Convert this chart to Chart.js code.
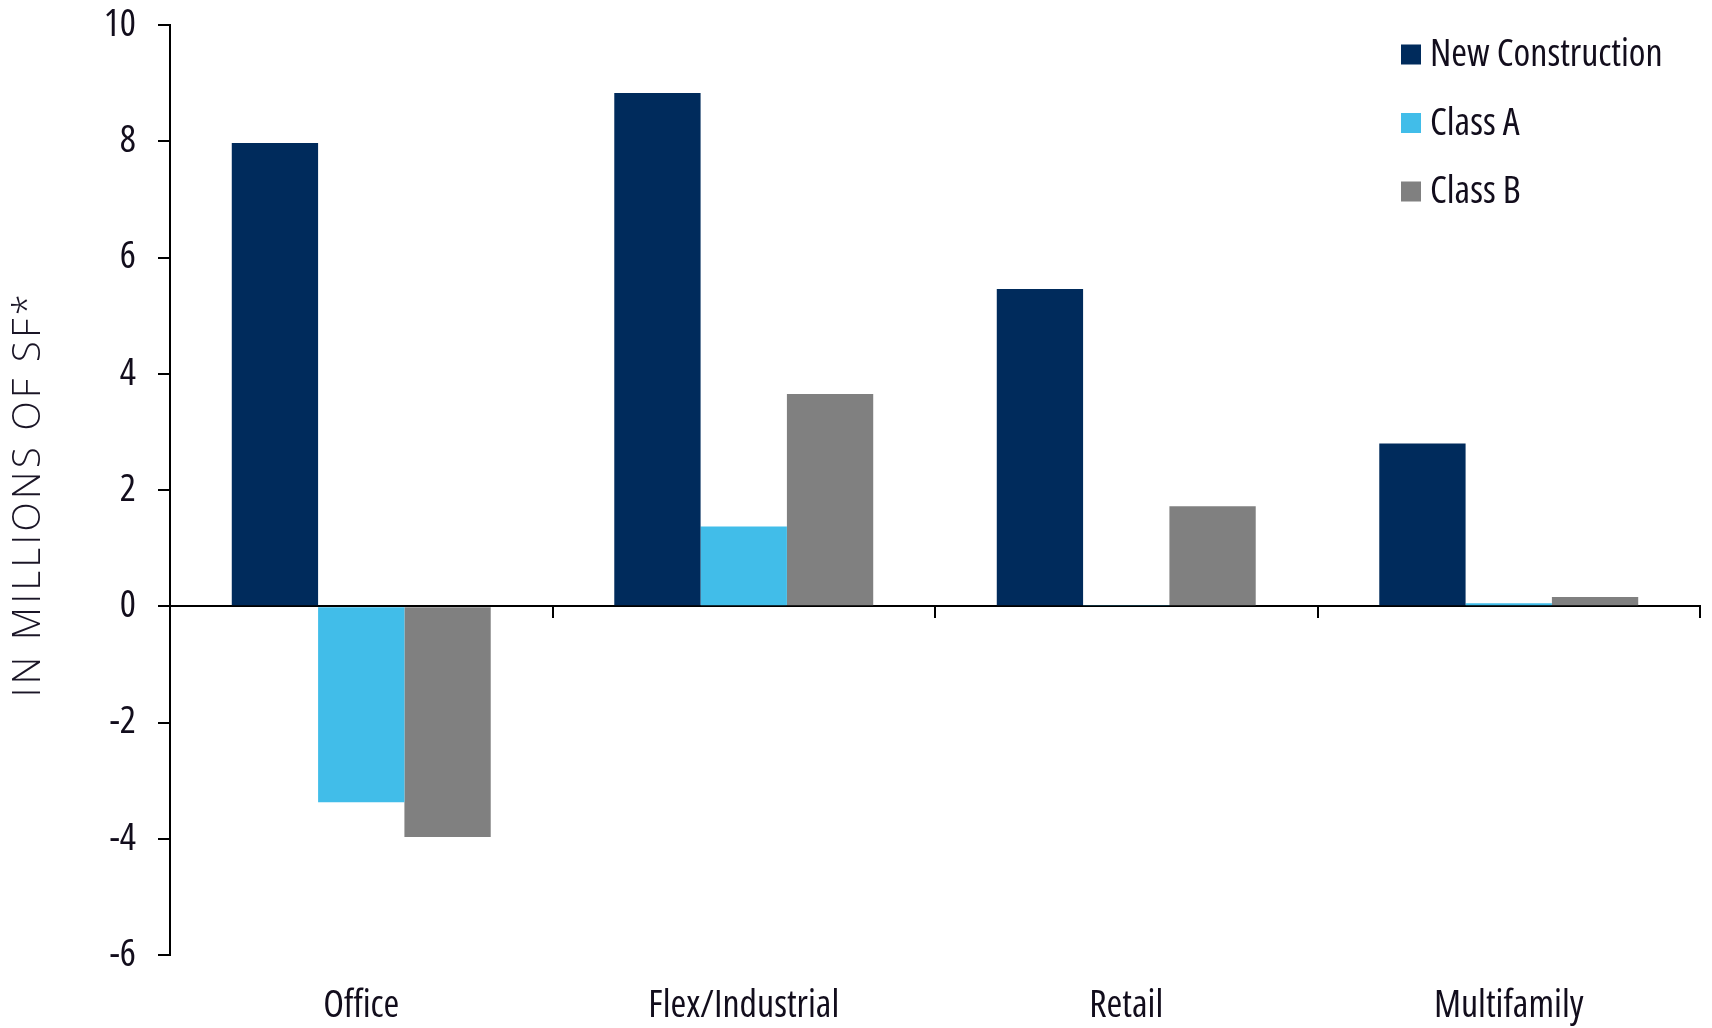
<!DOCTYPE html>
<html>
<head>
<meta charset="utf-8">
<script src="https://cdn.jsdelivr.net/npm/chart.js@4/dist/chart.umd.min.js"></script>
<style>
    body { margin: 0; background: #fff; }
    #wrap { width: 1712px; height: 1028px; }
</style>
</head>
<body>
<div id="wrap"><canvas id="chart"></canvas></div>
<script>
// Dados (milhões de SF)
const categories = ['Office', 'Flex/Industrial', 'Retail', 'Multifamily'];
const newConstruction = [7.97, 8.83, 5.46, 2.80];
const classA = [-3.37, 1.37, 0.02, 0.05];
const classB = [-3.97, 3.65, 1.72, 0.16];
const seriesNames = ['New Construction', 'Class A', 'Class B'];
const axisTitle = 'IN MILLIONS OF SF*';

const colors = ['#002B5C', '#41BDE9', '#808080'];
const textColor = '#120d1c';

// Procura uma fonte condensada instalada (largura alvo de "Flex/Industrial" ~192px)
function pickFont() {
    const c = document.createElement('canvas').getContext('2d');
    const fams = ['"Open Sans"', 'Roboto', '"Noto Sans"', 'Inter'];
    for (const fam of fams) {
        c.font = `500 36px ${fam}`;
        const normal = c.measureText('Flex/Industrial').width;
        c.font = `condensed 500 36px ${fam}`;
        const cond = c.measureText('Flex/Industrial').width;
        if (cond < normal * 0.9) {
            return { family: fam, weight: 'condensed 500', size: Math.min(38, Math.round(36 * 192 / cond)) };
        }
    }
    c.font = '36px "DejaVu Sans Condensed"';
    const dv = c.measureText('Flex/Industrial').width;
    return { family: '"DejaVu Sans Condensed", sans-serif', weight: 'normal', size: Math.round(36 * 200 / dv) };
}
const lf = pickFont();
const labelFont = { family: lf.family, weight: lf.weight, size: lf.size };

// Legenda dentro da área do gráfico e título do eixo com espaçamento entre letras
const extras = {
    id: 'extras',
    afterDraw(chart) {
        const ctx = chart.ctx;
        const area = chart.chartArea;
        const x = area.right - 299;
        ctx.save();
        ctx.font = `${lf.weight} ${lf.size}px ${lf.family}`;
        ctx.textBaseline = 'middle';
        chart.data.datasets.forEach((ds, i) => {
            const y = 54.5 + i * 68.5;
            ctx.fillStyle = ds.backgroundColor;
            ctx.fillRect(x, y - 10, 20, 20);
            ctx.fillStyle = textColor;
            ctx.fillText(ds.label, x + 29, y + 1);
        });
        ctx.restore();

        ctx.save();
        ctx.translate(29, (area.top + area.bottom) / 2 + 4);
        ctx.rotate(-Math.PI / 2);
        ctx.font = '300 38px "Open Sans", sans-serif';
        ctx.letterSpacing = '3.5px';
        ctx.fillStyle = '#1a1526';
        ctx.textAlign = 'center';
        ctx.textBaseline = 'middle';
        ctx.fillText(axisTitle, 0, 0);
        ctx.restore();
    }
};

const ctx = document.getElementById('chart').getContext('2d');
new Chart(ctx, {
    type: 'bar',
    data: {
        labels: categories,
        datasets: [
            { label: seriesNames[0], data: newConstruction, backgroundColor: colors[0] },
            { label: seriesNames[1], data: classA, backgroundColor: colors[1] },
            { label: seriesNames[2], data: classB, backgroundColor: colors[2] }
        ]
    },
    options: {
        responsive: true,
        maintainAspectRatio: false,
        animation: false,
        layout: { padding: { top: 25, right: 12, bottom: 0, left: 0 } },
        datasets: {
            bar: { categoryPercentage: 0.677, barPercentage: 1.0, borderWidth: 0 }
        },
        plugins: {
            legend: { display: false },
            tooltip: { enabled: false }
        },
        scales: {
            x: {
                grid: { display: false, drawTicks: false },
                border: { display: false },
                ticks: {
                    color: textColor,
                    padding: 28,
                    font: labelFont
                },
                afterFit(scale) { scale.height = 73; }
            },
            // eixo no zero, só com a linha e as marcas entre categorias
            x0: {
                type: 'category',
                position: { y: 0 },
                offset: true,
                grid: {
                    offset: true,
                    drawOnChartArea: false,
                    drawTicks: true,
                    tickLength: 11,
                    color: '#000',
                    lineWidth: 2
                },
                border: { display: true, color: '#000', width: 2 },
                ticks: { display: false }
            },
            y: {
                min: -6,
                max: 10,
                ticks: {
                    stepSize: 2,
                    color: textColor,
                    padding: 22,
                    font: labelFont
                },
                grid: {
                    drawOnChartArea: false,
                    drawTicks: true,
                    tickLength: 12,
                    color: '#000',
                    lineWidth: 2
                },
                border: { display: true, color: '#000', width: 2 },
                afterFit(scale) {
                    scale.width = 170;
                    scale.paddingTop = 0;
                    scale.paddingBottom = 0;
                }
            }
        }
    },
    plugins: [extras]
});
</script>
</body>
</html>
